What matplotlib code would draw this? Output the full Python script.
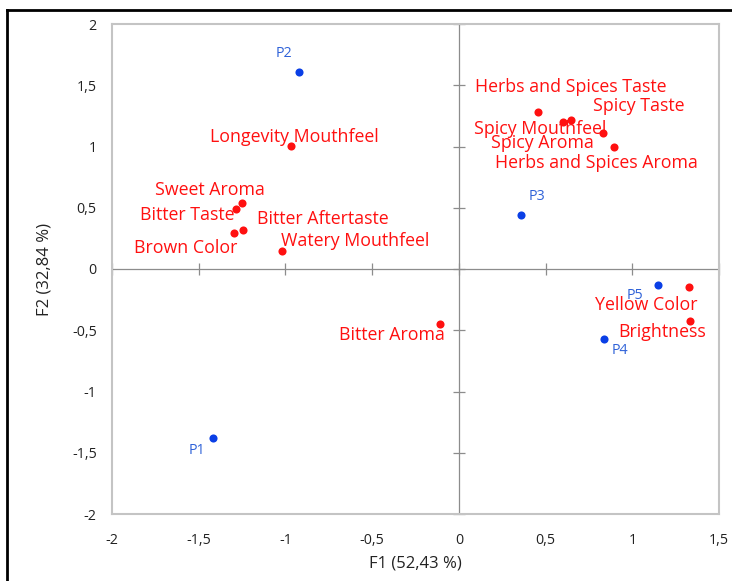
import matplotlib
matplotlib.use("Agg")
import matplotlib.pyplot as plt
from matplotlib.lines import Line2D

plt.rcParams['font.family'] = ['Open Sans', 'DejaVu Sans']

# Observations (products)
obs_names = ["P1", "P2", "P3", "P4", "P5"]
obs_f1 = [-1.417, -0.920, 0.357, 0.835, 1.151]
obs_f2 = [-1.383, 1.605, 0.439, -0.572, -0.133]

# Variables (attributes)
var_names = ["Longevity Mouthfeel", "Sweet Aroma", "Bitter Taste", "Bitter Aftertaste",
             "Brown Color", "Watery Mouthfeel", "Bitter Aroma", "Herbs and Spices Taste",
             "Spicy Mouthfeel", "Spicy Taste", "Spicy Aroma", "Herbs and Spices Aroma",
             "Yellow Color", "Brightness"]
var_f1 = [-0.970, -1.253, -1.286, -1.247, -1.299, -1.018, -0.111, 0.455,
          0.602, 0.646, 0.829, 0.897, 1.327, 1.332]
var_f2 = [1.005, 0.537, 0.493, 0.316, 0.292, 0.144, -0.447, 1.283,
          1.203, 1.219, 1.109, 1.000, -0.145, -0.428]

x_ticks = [-2, -1.5, -1, -0.5, 0, 0.5, 1, 1.5]
y_ticks = [-2, -1.5, -1, -0.5, 0, 0.5, 1, 1.5, 2]

# label offsets in pixels (dx, dy)
obs_off = [(-16, -12), (-15, 19), (16, 19), (16, -11), (-24, -10)]
var_off = [(4, 9), (-32, 13), (-49, -6), (80, 11), (-48, -15), (73, 10), (-48, -11),
           (33, 25), (-23, -7), (68, 14), (-60, -10), (-18, -17), (-43, -18), (-28, -11)]

RED = "#FF1010"
BLUE_PT = "#0A3FE6"
BLUE_TXT = "#2F62D8"

fig = plt.figure(figsize=(7.32, 5.81), dpi=100)
ax = fig.add_axes([112/732, 1-514/581, (719-112)/732, (514-24)/581])

ax.set_xlim(-2, 1.5)
ax.set_ylim(-2, 2)

for s in ax.spines.values():
    s.set_color("#C4C4C4")
    s.set_linewidth(1.5)

ax.axhline(0, color="#8C8C8C", lw=0.9, zorder=1)
ax.axvline(0, color="#8C8C8C", lw=0.9, zorder=1)

ax.set_xticks(x_ticks)
ax.set_yticks(y_ticks)
fmt = lambda v: (f"{v:g}").replace(".", ",")
ax.set_xticklabels([fmt(v) for v in x_ticks])
ax.set_yticklabels([fmt(v) for v in y_ticks])
ax.tick_params(axis='both', length=0, labelsize=10.3, colors="#222222")
ax.tick_params(axis='x', pad=14)
ax.tick_params(axis='y', pad=11)

# small tick marks on the zero lines
ax.plot([0]*len(y_ticks), y_ticks, linestyle='none', marker='_', markersize=8,
        color="#8C8C8C", markeredgewidth=0.9, zorder=1, clip_on=False)
ax.plot(x_ticks, [0]*len(x_ticks), linestyle='none', marker='|', markersize=8,
        color="#8C8C8C", markeredgewidth=0.9, zorder=1, clip_on=False)

ax.scatter(var_f1, var_f2, s=34, color=RED, zorder=3, linewidths=0)
ax.scatter(obs_f1, obs_f2, s=34, color=BLUE_PT, zorder=3, linewidths=0)

for n, x, y, (dx, dy) in zip(var_names, var_f1, var_f2, var_off):
    ax.annotate(n, (x, y), xytext=(dx, dy), textcoords='offset pixels',
                ha='center', va='center', color=RED, fontsize=12.8, zorder=4)
for n, x, y, (dx, dy) in zip(obs_names, obs_f1, obs_f2, obs_off):
    ax.annotate(n, (x, y), xytext=(dx, dy), textcoords='offset pixels',
                ha='center', va='center', color=BLUE_TXT, fontsize=10.3, zorder=4)

ax.set_xlabel("F1 (52,43 %)", fontsize=12, color="#222222", labelpad=5)
ax.set_ylabel("F2 (32,84 %)", fontsize=12, color="#222222", labelpad=14)

# outer black frame (top and left)
fig.add_artist(Line2D([7/732, 7/732], [0, 1-10/581], transform=fig.transFigure,
                      color="black", lw=2))
fig.add_artist(Line2D([7/732, 1], [1-10/581, 1-10/581], transform=fig.transFigure,
                      color="black", lw=2))

fig.savefig("out.png", dpi=100)
